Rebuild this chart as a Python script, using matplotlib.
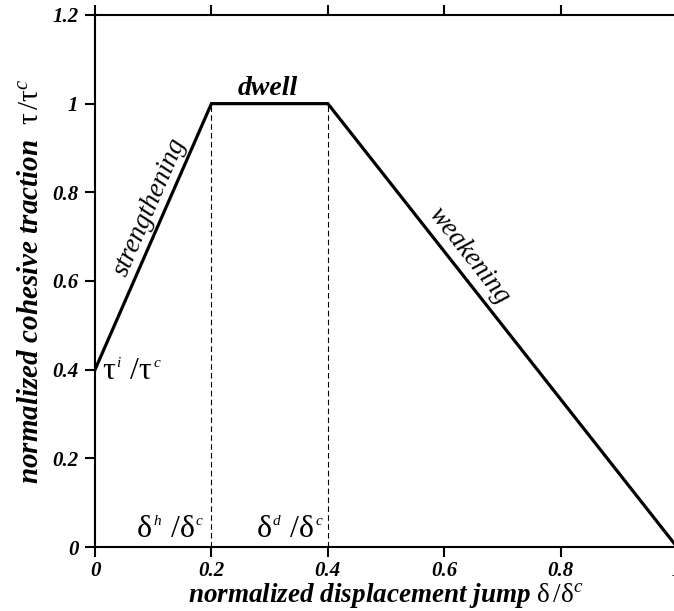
import matplotlib
matplotlib.use('Agg')
import matplotlib.pyplot as plt
from matplotlib.offsetbox import TextArea, HPacker, AnnotationBbox

plt.rcParams['font.family'] = ['Liberation Serif', 'DejaVu Serif']
plt.rcParams['mathtext.fontset'] = 'custom'
plt.rcParams['mathtext.rm'] = 'Liberation Serif'
plt.rcParams['mathtext.it'] = 'Liberation Serif:italic'

# traction-separation law (normalized)
disp = [0.0, 0.2, 0.4, 1.0]
traction = [0.4, 1.0, 1.0, 0.0]
delta_h = 0.2
delta_d = 0.4
tau_i = 0.4

x_ticks = [0, 0.2, 0.4, 0.6, 0.8, 1]
x_ticklabels = ['0', '0.2', '0.4', '0.6', '0.8', '1']
y_ticks = [0, 0.2, 0.4, 0.6, 0.8, 1, 1.2]
y_ticklabels = ['0', '0.2', '0.4', '0.6', '0.8', '1', '1.2']


def ratio_label(base, sup, den, sup2, size=23, small=11):
    """base^sup /den^sup2 built from pieces so the superscripts stay small"""
    parts = [
        TextArea(base, textprops=dict(fontsize=size)),
        TextArea(sup, textprops=dict(fontsize=small, fontstyle='italic')),
        TextArea(' /' + den, textprops=dict(fontsize=size)),
        TextArea(sup2, textprops=dict(fontsize=small, fontstyle='italic')),
    ]
    return HPacker(children=parts, align='top', pad=0, sep=1)


fig = plt.figure(figsize=(6.74, 6.11), dpi=100)
ax = fig.add_axes([0.141, 0.1047, 0.8635, 0.8708])

ax.plot(disp, traction, color='black', lw=2.3, solid_joinstyle='miter')
ax.plot([delta_h, delta_h], [0, 1], color='black', lw=0.8, ls=(0, (5, 3)))
ax.plot([delta_d, delta_d], [0, 1], color='black', lw=0.8, ls=(0, (5, 3)))

ax.set_xlim(0, 1)
ax.set_ylim(0, 1.2)
ax.set_xticks(x_ticks)
ax.set_xticklabels(x_ticklabels)
ax.set_yticks(y_ticks)
ax.set_yticklabels(y_ticklabels)
ax.tick_params(direction='out', length=7, width=1.5, labelsize=15, pad=5,
               top=True, right=False)
ax.tick_params(axis='x', pad=3)
for lab in ax.get_xticklabels() + ax.get_yticklabels():
    lab.set_fontweight('bold')
    lab.set_fontstyle('italic')
for s in ['left', 'bottom', 'top']:
    ax.spines[s].set_linewidth(1.5)
ax.spines['right'].set_visible(False)

ax.set_xlabel(r'normalized displacement jump $\mathrm{\delta}\,/\mathrm{\delta}^{c}$',
              fontsize=19.5, fontweight='bold', fontstyle='italic', labelpad=0)
ax.set_ylabel(r'normalized cohesive traction  $\mathrm{\tau}\,/\mathrm{\tau}^{c}$',
              fontsize=21, fontweight='bold', fontstyle='italic', labelpad=6)

# segment names along the curve
ax.text(0.094, 0.767, 'strengthening', rotation=66.5, fontsize=19.5,
        fontstyle='italic', ha='center', va='center')
ax.text(0.296, 1.035, 'dwell', fontsize=20, fontstyle='italic', fontweight='bold',
        ha='center', va='center')
ax.text(0.643, 0.656, 'weakening', rotation=-51.8, fontsize=19.5,
        fontstyle='italic', ha='center', va='center')

# characteristic values
for xy, box, align in [
        ((0.012, tau_i - 0.005), ratio_label('τ', 'i', 'τ', 'c'), (0, 0.5)),
        ((delta_h - 0.015, 0.04), ratio_label('δ', 'h', 'δ', 'c'), (1, 0.5)),
        ((delta_d - 0.01, 0.04), ratio_label('δ', 'd', 'δ', 'c'), (1, 0.5))]:
    ab = AnnotationBbox(box, xy, xycoords='data', box_alignment=align,
                        frameon=False, pad=0)
    ax.add_artist(ab)

fig.savefig('out.png', dpi=100)
